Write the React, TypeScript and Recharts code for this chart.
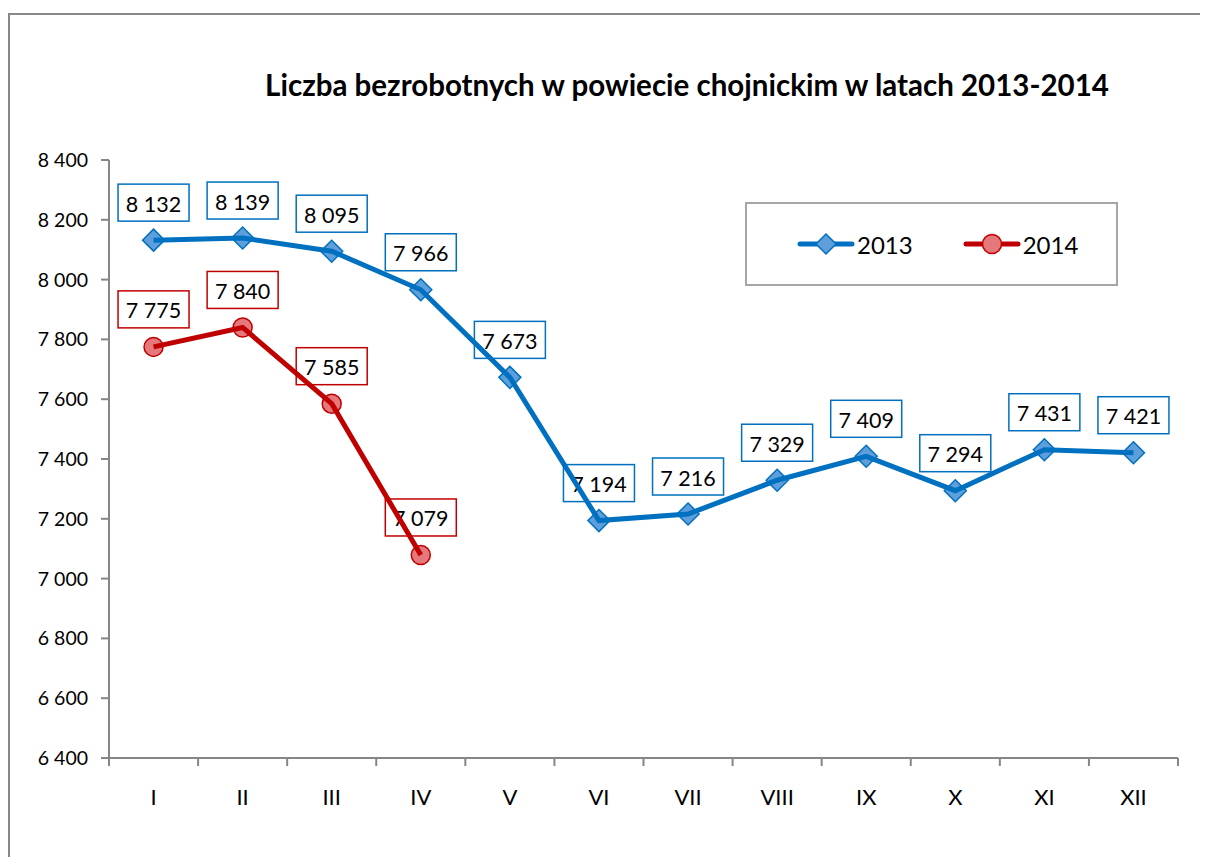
import React from "react";
import { LineChart, Line, XAxis, YAxis } from "recharts";

const months = ["I", "II", "III", "IV", "V", "VI", "VII", "VIII", "IX", "X", "XI", "XII"];
const values2013 = [8132, 8139, 8095, 7966, 7673, 7194, 7216, 7329, 7409, 7294, 7431, 7421];
const values2014 = [7775, 7840, 7585, 7079];
const yTicks = [6400, 6600, 6800, 7000, 7200, 7400, 7600, 7800, 8000, 8200, 8400];

const BLUE = "#0070C0";
const RED = "#C00000";
const AXIS = "#868686";
const FONT = "Lato, 'Open Sans', sans-serif";

const W = 1200;
const H = 849;
const M = { top: 152, right: 30, left: 0, bottom: 0 };
const Y_W = 101;
const X_H = 99;
const BAND = (W - Y_W - M.right) / months.length;

const data = months.map((m, i) => ({
  month: m,
  y2013: values2013[i],
  y2014: i < values2014.length ? values2014[i] : null,
}));

const fmt = (v: number) => String(v).replace(/\B(?=(\d{3})+(?!\d))/g, " ");

const ValueBox = ({ x, y, value, color }: any) => {
  const w = 71;
  const h = 37;
  const top = y - 19 - h;
  return (
    <g>
      <rect x={x - w / 2} y={top} width={w} height={h} fill="#fff" stroke={color} strokeWidth={1.5} />
      <text x={x} y={top + h / 2 + 1} textAnchor="middle" dominantBaseline="central" fontSize={21.5} fontFamily={FONT} fill="#000">
        {fmt(value)}
      </text>
    </g>
  );
};

const Diamond = ({ cx, cy, size = 11 }: any) =>
  cx == null || cy == null ? null : (
    <path
      d={`M${cx},${cy - size} L${cx + size},${cy} L${cx},${cy + size} L${cx - size},${cy} Z`}
      fill="#5E9FDB"
      stroke={BLUE}
      strokeWidth={1.5}
    />
  );

const Circle = ({ cx, cy, size = 9.5 }: any) =>
  cx == null || cy == null ? null : <circle cx={cx} cy={cy} r={size} fill="#E4787A" stroke={RED} strokeWidth={1.5} />;

// marker + boxed value label
const markerWithLabel = (color: string, circle: boolean) => (p: any) => {
  const key = `${color}-${p.index}`;
  if (p.cx == null || p.cy == null || p.value == null) return <g key={key} />;
  return (
    <g key={key}>
      {circle ? <Circle cx={p.cx} cy={p.cy} /> : <Diamond cx={p.cx} cy={p.cy} />}
      <ValueBox x={p.cx} y={p.cy} value={p.value} color={color} />
    </g>
  );
};

const XTick = (props: any) => {
  const { x, y, payload, index } = props;
  const axisY = y - 8;
  return (
    <g>
      <line x1={x - BAND / 2} x2={x - BAND / 2} y1={axisY} y2={axisY + 8} stroke={AXIS} strokeWidth={2} />
      {index === months.length - 1 && (
        <line x1={x + BAND / 2} x2={x + BAND / 2} y1={axisY} y2={axisY + 8} stroke={AXIS} strokeWidth={2} />
      )}
      <text x={x} y={axisY + 38} textAnchor="middle" dominantBaseline="central" fontSize={22} fontFamily={FONT} fill="#000">
        {payload.value}
      </text>
    </g>
  );
};

const LegendItem = ({ color, label, circle }: { color: string; label: string; circle?: boolean }) => (
  <div style={{ display: "flex", alignItems: "center", marginRight: 50 }}>
    <svg width={58} height={26}>
      <line x1={3} x2={55} y1={13} y2={13} stroke={color} strokeWidth={5} strokeLinecap="round" />
      {circle ? <Circle cx={29} cy={13} size={9.5} /> : <Diamond cx={29} cy={13} size={10} />}
    </svg>
    <span style={{ fontSize: 24, marginLeft: 2 }}>{label}</span>
  </div>
);

export default function App() {
  return (
    <div style={{ position: "relative", width: W, height: H, overflow: "hidden", fontFamily: FONT, background: "#fff" }}>
      <div
        style={{
          position: "absolute",
          left: 0,
          top: 5,
          width: W + 100,
          height: H + 100,
          border: "2px solid #888",
          boxSizing: "border-box",
        }}
      />
      <div
        style={{
          position: "absolute",
          left: 679,
          top: 60,
          transform: "translateX(-50%)",
          whiteSpace: "nowrap",
          fontSize: 29.5,
          lineHeight: "34px",
          fontWeight: 700,
        }}
      >
        Liczba bezrobotnych w powiecie chojnickim w latach 2013-2014
      </div>

      {/* bottom layer: axes, markers and boxed labels */}
      <div style={{ position: "absolute", left: 0, top: 0 }}>
        <LineChart width={W} height={H} data={data} margin={M}>
          <XAxis
            dataKey="month"
            height={X_H}
            padding={{ left: BAND / 2, right: BAND / 2 }}
            axisLine={{ stroke: AXIS, strokeWidth: 2 }}
            tickLine={false}
            tickSize={8}
            tickMargin={0}
            tick={<XTick />}
            interval={0}
          />
          <YAxis
            width={Y_W}
            domain={[6400, 8400]}
            ticks={yTicks}
            interval={0}
            tickFormatter={fmt}
            axisLine={{ stroke: AXIS, strokeWidth: 2 }}
            tickLine={{ stroke: AXIS, strokeWidth: 2 }}
            tickSize={8}
            tickMargin={13}
            tick={{ fill: "#000", fontSize: 19.5, fontFamily: FONT }}
          />
          <Line dataKey="y2013" stroke="none" dot={markerWithLabel(BLUE, false)} activeDot={false} isAnimationActive={false} />
          <Line dataKey="y2014" stroke="none" dot={markerWithLabel(RED, true)} activeDot={false} isAnimationActive={false} />
        </LineChart>
      </div>

      {/* top layer: the lines, painted over markers and labels like in Excel */}
      <div style={{ position: "absolute", left: 0, top: 0 }}>
        <LineChart width={W} height={H} data={data} margin={M}>
          <XAxis
            dataKey="month"
            height={X_H}
            padding={{ left: BAND / 2, right: BAND / 2 }}
            axisLine={false}
            tickLine={false}
            tick={false}
            interval={0}
          />
          <YAxis width={Y_W} domain={[6400, 8400]} ticks={yTicks} axisLine={false} tickLine={false} tick={false} />
          <Line dataKey="y2013" stroke={BLUE} strokeWidth={5} dot={false} activeDot={false} isAnimationActive={false} />
          <Line
            dataKey="y2014"
            stroke={RED}
            strokeWidth={5}
            dot={false}
            activeDot={false}
            connectNulls={false}
            isAnimationActive={false}
          />
        </LineChart>
      </div>

      <div
        style={{
          position: "absolute",
          left: 737,
          top: 194,
          width: 373,
          height: 84,
          border: "2px solid #A6A6A6",
          boxSizing: "border-box",
          display: "flex",
          alignItems: "center",
          paddingLeft: 50,
        }}
      >
        <LegendItem color={BLUE} label="2013" />
        <LegendItem color={RED} label="2014" circle />
      </div>
    </div>
  );
}
